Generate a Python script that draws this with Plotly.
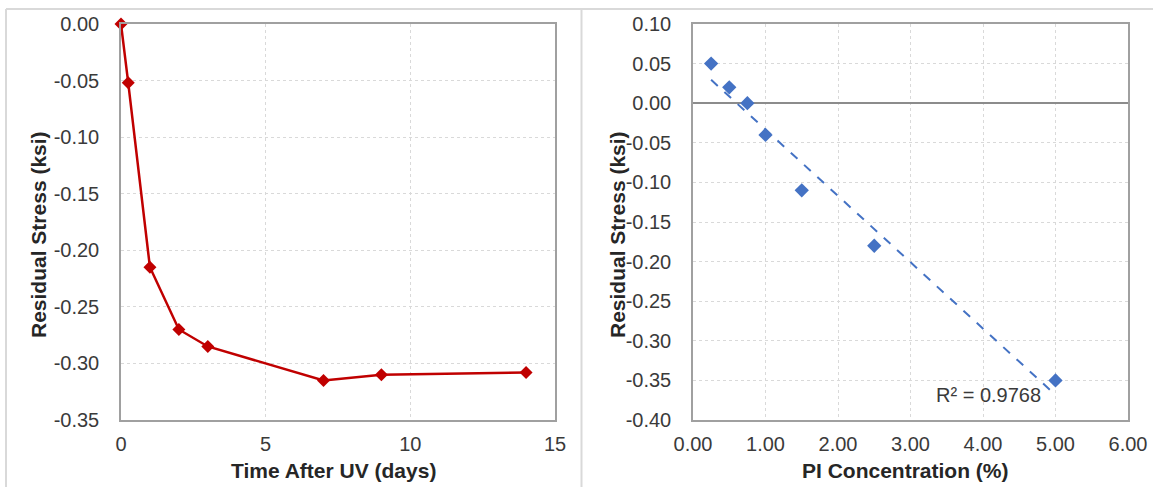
import numpy as np
import plotly.graph_objects as go

# ---- data ----
time_days = [0, 0.25, 1, 2, 3, 7, 9, 14]
stress_time = [0.0, -0.052, -0.215, -0.270, -0.285, -0.315, -0.310, -0.308]

pi_conc = [0.25, 0.5, 0.75, 1.0, 1.5, 2.5, 5.0]
stress_pi = [0.05, 0.02, 0.0, -0.04, -0.11, -0.18, -0.35]
r2_label = "R² = 0.9768"

left_xticks = [0, 5, 10, 15]
left_yticks = [0.0, -0.05, -0.10, -0.15, -0.20, -0.25, -0.30, -0.35]
right_xticks = [0, 1, 2, 3, 4, 5, 6]
right_yticks = [0.10, 0.05, 0.0, -0.05, -0.10, -0.15, -0.20, -0.25, -0.30, -0.35, -0.40]

W, H = 1153, 487
FONT = "Liberation Sans, Arial, sans-serif"
TICK_COLOR = "#3a3a3a"
TITLE_COLOR = "#262626"
GRID = "#d9d9d9"
FRAME = "#a0a0a0"


def px(x):
    return x / W


def py(y):
    return 1 - y / H


def hyphen_labels(vals, fmt):
    return [format(v, fmt).replace("−", "-") for v in vals]


# least-squares trend line through the PI concentration data
slope, intercept = np.polyfit(pi_conc, stress_pi, 1)
trend_x = [min(pi_conc), max(pi_conc)]
trend_y = [slope * x + intercept for x in trend_x]

fig = go.Figure()

fig.add_trace(go.Scatter(
    x=time_days, y=stress_time, mode="lines+markers",
    line=dict(color="#c00000", width=2.5),
    marker=dict(symbol="diamond", size=10, color="#c00000"),
    xaxis="x", yaxis="y", showlegend=False, cliponaxis=False,
))

fig.add_trace(go.Scatter(
    x=trend_x, y=trend_y, mode="lines",
    line=dict(color="#4472c4", width=2, dash="dash"),
    xaxis="x2", yaxis="y2", showlegend=False,
))
fig.add_trace(go.Scatter(
    x=pi_conc, y=stress_pi, mode="markers",
    marker=dict(symbol="diamond", size=11, color="#4472c4"),
    xaxis="x2", yaxis="y2", showlegend=False, cliponaxis=False,
))

axis_common = dict(
    showline=True, linecolor=FRAME, linewidth=1.5, mirror=True,
    showgrid=True, gridcolor=GRID, gridwidth=1, griddash="dot",
    ticks="", tickfont=dict(family=FONT, size=20, color=TICK_COLOR),
    fixedrange=True, automargin=False,
)

fig.update_layout(
    width=W, height=H,
    margin=dict(l=0, r=0, t=0, b=0, pad=0, autoexpand=False),
    paper_bgcolor="white", plot_bgcolor="white",
    xaxis=dict(
        domain=[px(121), px(555)], range=[0, 15], anchor="y",
        tickvals=left_xticks, ticktext=[str(v) for v in left_xticks],
        ticklabelstandoff=5, zeroline=False, **axis_common,
    ),
    yaxis=dict(
        domain=[py(420), py(24)], range=[-0.35, 0], anchor="x",
        tickvals=left_yticks, ticktext=hyphen_labels(left_yticks, ".2f"),
        ticklabelstandoff=16, zeroline=False, **axis_common,
    ),
    xaxis2=dict(
        domain=[px(693), px(1128)], range=[0, 6], anchor="y2",
        tickvals=right_xticks, ticktext=hyphen_labels(right_xticks, ".2f"),
        ticklabelstandoff=5, zeroline=False, **axis_common,
    ),
    yaxis2=dict(
        domain=[py(420), py(24)], range=[-0.40, 0.10], anchor="x2",
        tickvals=right_yticks, ticktext=hyphen_labels(right_yticks, ".2f"),
        ticklabelstandoff=16, zeroline=True, zerolinecolor="#8c8c8c",
        zerolinewidth=1.5, **axis_common,
    ),
)

title_font = dict(family=FONT, size=21, color=TITLE_COLOR)
annotations = [
    dict(text="<b>Time After UV (days)</b>", x=px(333), y=py(470)),
    dict(text="<b>PI Concentration (%)</b>", x=px(905), y=py(470)),
    dict(text="<b>Residual Stress (ksi)</b>", x=px(38), y=py(235), textangle=-90),
    dict(text="<b>Residual Stress (ksi)</b>", x=px(617), y=py(235), textangle=-90),
]
for a in annotations:
    fig.add_annotation(xref="paper", yref="paper", showarrow=False,
                       xanchor="center", yanchor="middle", font=title_font, **a)

fig.add_annotation(xref="paper", yref="paper", showarrow=False,
                   x=px(988), y=py(395), xanchor="center", yanchor="middle",
                   text=r2_label, font=dict(family=FONT, size=20, color=TICK_COLOR))

# panel borders around the two charts
border = dict(color="#d9d9d9", width=2)
fig.add_shape(type="line", xref="paper", yref="paper",
              x0=px(6), x1=1, y0=py(9), y1=py(9), line=border)
fig.add_shape(type="line", xref="paper", yref="paper",
              x0=px(6), x1=px(6), y0=py(9), y1=0, line=border)
fig.add_shape(type="line", xref="paper", yref="paper",
              x0=px(581.5), x1=px(581.5), y0=py(9), y1=0, line=border)

fig.write_html(
    "out.html",
    post_script="document.body.style.margin='0';document.body.style.overflow='hidden';",
)
